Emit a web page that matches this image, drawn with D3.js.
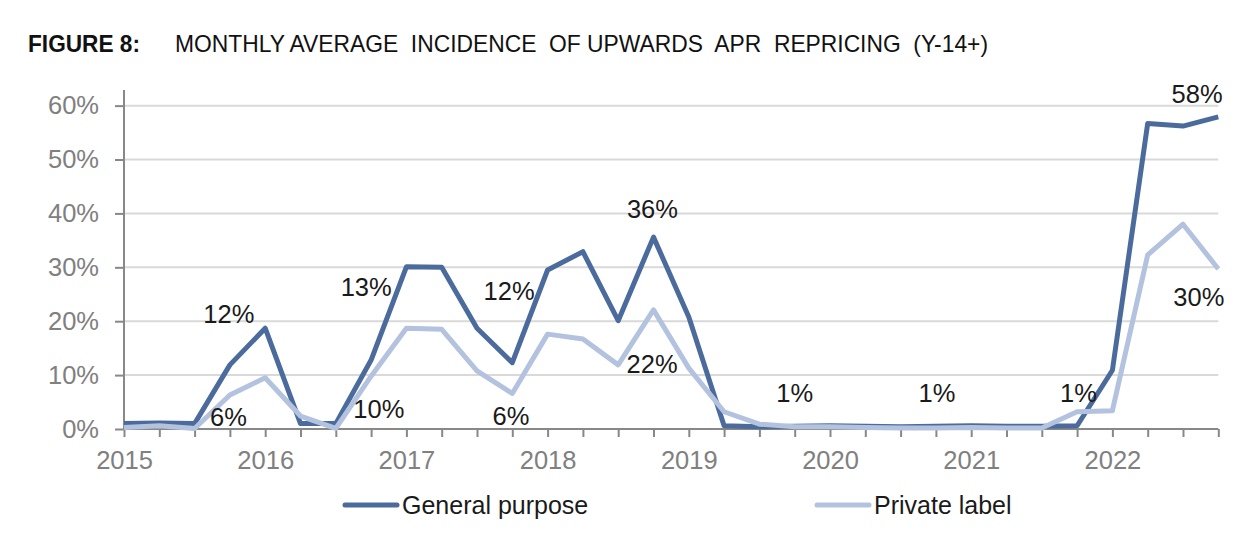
<!DOCTYPE html>
<html>
<head>
<meta charset="utf-8">
<script src="https://cdn.jsdelivr.net/npm/d3@7"></script>
<style>
  html, body { margin: 0; padding: 0; background: #fff; }
  svg { display: block; font-family: "Liberation Sans", Arial, sans-serif; }
</style>
</head>
<body>
<svg id="chart" width="1260" height="546"></svg>
<script>
const quarters = ["2015Q1","2015Q2","2015Q3","2015Q4","2016Q1","2016Q2","2016Q3","2016Q4",
  "2017Q1","2017Q2","2017Q3","2017Q4","2018Q1","2018Q2","2018Q3","2018Q4",
  "2019Q1","2019Q2","2019Q3","2019Q4","2020Q1","2020Q2","2020Q3","2020Q4",
  "2021Q1","2021Q2","2021Q3","2021Q4","2022Q1","2022Q2","2022Q3","2022Q4"];
const yearLabels = ["2015","2016","2017","2018","2019","2020","2021","2022"];
const generalPurpose = [1.0,1.1,1.0,11.9,18.7,1.0,1.0,12.8,30.1,30.0,18.7,12.3,29.5,32.9,20.1,35.6,
  20.8,0.6,0.4,0.5,0.6,0.5,0.4,0.5,0.6,0.5,0.5,0.6,10.9,56.7,56.2,57.9];
const privateLabel = [0.3,0.6,0.1,6.3,9.5,2.4,0.1,9.8,18.7,18.5,10.8,6.6,17.6,16.7,11.9,22.1,
  11.3,3.2,0.9,0.4,0.4,0.3,0.2,0.2,0.3,0.2,0.2,3.2,3.4,32.3,38.0,29.7];
const yTicks = [0,10,20,30,40,50,60];
const seriesNames = ["General purpose","Private label"];
// annotation labels: [text, quarter index, value %]
const annotations = [
  ["12%", 2.97, 21.3], ["6%", 2.96, 2.2], ["13%", 6.86, 26.3], ["10%", 7.22, 3.7],
  ["12%", 10.91, 25.6], ["6%", 10.96, 2.4], ["36%", 14.97, 40.8], ["22%", 14.96, 12.1],
  ["1%", 19.0, 6.7], ["1%", 23.03, 6.7], ["1%", 27.04, 6.7],
  ["58%", 30.4, 62.2], ["30%", 30.45, 24.5]
];

const colors = ["#4b6b9d", "#b3c2de"];
const svg = d3.select("#chart");

// Title
svg.append("text").attr("x", 28).attr("y", 52)
  .attr("font-size", 24).attr("font-weight", "bold").attr("fill", "#111")
  .attr("textLength", 112).attr("lengthAdjust", "spacingAndGlyphs")
  .text("FIGURE 8:");
svg.append("text").attr("x", 175).attr("y", 52)
  .attr("font-size", 24).attr("fill", "#111").style("white-space", "pre")
  .attr("textLength", 813).attr("lengthAdjust", "spacingAndGlyphs")
  .text("MONTHLY AVERAGE  INCIDENCE  OF UPWARDS  APR  REPRICING  (Y-14+)");

const x = d3.scaleLinear().domain([0, quarters.length - 1]).range([124, 1218.3]);
const y = d3.scaleLinear().domain([0, 62.9]).range([429, 90]);

// gridlines
svg.append("g").selectAll("line").data(yTicks.filter(d => d > 0)).join("line")
  .attr("x1", x(0)).attr("x2", x(quarters.length - 1))
  .attr("y1", d => y(d)).attr("y2", d => y(d))
  .attr("stroke", "#d9d9d9").attr("stroke-width", 2);

// y axis
const yAxis = svg.append("g").attr("transform", `translate(${x(0)},0)`)
  .call(d3.axisLeft(y).tickValues(yTicks).tickFormat(d => d + "%").tickSize(9).tickPadding(16));
yAxis.select(".domain").attr("stroke", "#888").attr("stroke-width", 2)
  .attr("d", `M0,${y(62.9)}V${y(0)}`);
yAxis.selectAll(".tick line").attr("stroke", "#888").attr("stroke-width", 2);
yAxis.selectAll(".tick text").attr("font-size", 25.5).attr("fill", "#808080")
  .attr("font-family", "Liberation Sans, Arial, sans-serif");

// x axis
const xAxis = svg.append("g").attr("transform", `translate(0,${y(0)})`)
  .call(d3.axisBottom(x).tickValues(d3.range(quarters.length)).tickSize(8).tickPadding(14)
    .tickFormat(i => quarters[i].endsWith("Q1") ? yearLabels[yearLabels.indexOf(quarters[i].slice(0,4))] : ""));
xAxis.select(".domain").attr("stroke", "#888").attr("stroke-width", 2)
  .attr("d", `M${x(0)},0H${x(quarters.length - 1)}`);
xAxis.selectAll(".tick line").attr("stroke", "#888").attr("stroke-width", 2);
xAxis.selectAll(".tick text").attr("font-size", 25.5).attr("fill", "#808080")
  .attr("font-family", "Liberation Sans, Arial, sans-serif");

// lines
const line = d3.line().x((d, i) => x(i)).y(d => y(d));
[generalPurpose, privateLabel].forEach((s, k) => {
  svg.append("path").attr("d", line(s)).attr("fill", "none")
    .attr("stroke", colors[k]).attr("stroke-width", 5)
    .attr("stroke-linejoin", "round");
});

// annotations
svg.append("g").selectAll("text").data(annotations).join("text")
  .attr("x", d => x(d[1])).attr("y", d => y(d[2]))
  .attr("text-anchor", "middle").attr("dominant-baseline", "central")
  .attr("font-size", 25.5).attr("fill", "#1a1a1a")
  .text(d => d[0]);

// legend
const legendX = [343, 815];
seriesNames.forEach((name, k) => {
  const g = svg.append("g").attr("transform", `translate(${legendX[k]},505)`);
  g.append("line").attr("x1", 2).attr("x2", 54).attr("y1", 0).attr("y2", 0)
    .attr("stroke", colors[k]).attr("stroke-width", 5).attr("stroke-linecap", "round");
  g.append("text").attr("x", 59).attr("y", 0).attr("dominant-baseline", "central")
    .attr("font-size", 25).attr("fill", "#1a1a1a").text(name);
});
</script>
</body>
</html>
